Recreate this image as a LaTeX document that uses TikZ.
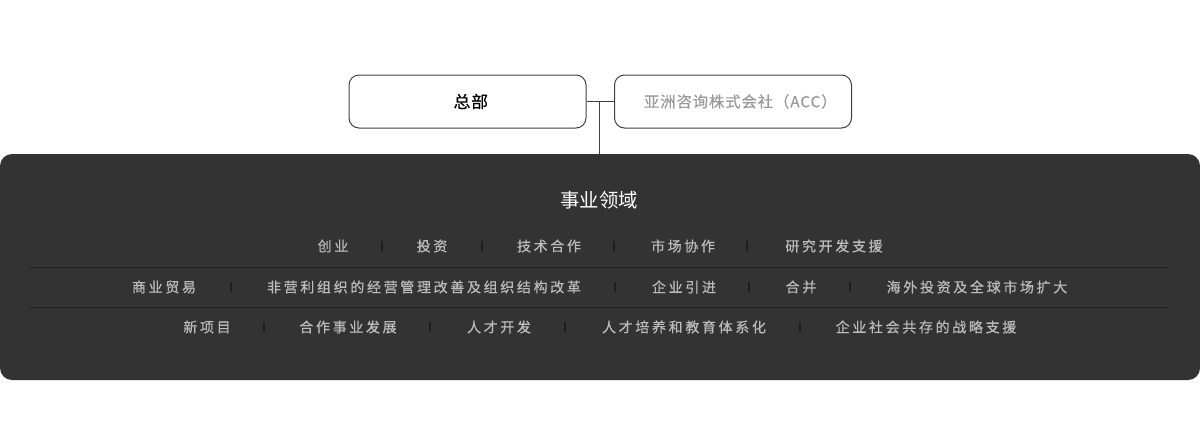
\documentclass[tikz,border=0pt]{standalone}
\usepackage{fontspec}
\setmainfont{Noto Sans CJK SC}
\newfontfamily\cjkwide[LetterSpace=19,FakeBold=0.6]{Noto Sans CJK SC}
\newfontfamily\cjkmid[LetterSpace=6,FakeBold=0.5]{Noto Sans CJK SC}
\usetikzlibrary{positioning}

\definecolor{panelgray}{HTML}{333333}
\definecolor{itemgray}{HTML}{BBBBBB}
\definecolor{rulegray}{HTML}{1E1E1E}
\definecolor{accgray}{HTML}{999999}

\tikzset{
  topbox/.style={draw=black!75,line width=0.75pt,rounded corners=7.5pt,minimum width=177.75pt,minimum height=39.75pt,inner sep=0pt},
  item/.style={text=itemgray,font=\cjkwide\fontsize{10.5}{12}\selectfont,inner sep=0pt},
  sepbar/.style={fill=rulegray,minimum width=1.5pt,minimum height=8pt,inner sep=0pt},
}

\begin{document}
\begin{tikzpicture}[x=0.75pt,y=-0.75pt]
    \useasboundingbox (0,0) rectangle (1200,433);
    % top row
    \node[topbox,font=\cjkmid\fontsize{12.5}{14}\selectfont](hq) at (467.5,101.5){\hspace*{5pt}总部};
    \node[topbox,text=accgray,font=\cjkmid\fontsize{11.5}{14}\selectfont](acc) at (733,101.5){\hspace*{11pt}亚洲咨询株式会社（ACC）};
    % panel
    \node[fill=panelgray,rounded corners=9pt,minimum width=900pt,minimum height=169.5pt,inner sep=0pt](panel) at (600,267){};
    \coordinate(join) at (599,101.5);
    \draw[black!75,line width=0.75pt](hq.east) -- (acc.west);
    \draw[black!75,line width=0.75pt](join) -- (join |- panel.north);
    \node[text=white,font=\fontsize{14.5}{16}\selectfont](title) at (599,200){事业领域};
    % rules
    \coordinate(r1l) at (30,267.5); \coordinate(r1r) at (1168,267.5);
    \coordinate(r2l) at (30,307.5); \coordinate(r2r) at (1168,307.5);
    \draw[rulegray,line width=0.75pt](r1l) -- (r1r);
    \draw[rulegray,line width=0.75pt](r2l) -- (r2r);
    % row 1
    \node[item](a1) at (333,246){创业};
    \node[sepbar](s11) at (382,246){};
    \node[item](a2) at (432,246){投资};
    \node[sepbar](s12) at (482,246){};
    \node[item](a3) at (549,246){技术合作};
    \node[sepbar](s13) at (614,246){};
    \node[item](a4) at (683,246){市场协作};
    \node[sepbar](s14) at (747,246){};
    \node[item](a5) at (834,246){研究开发支援};
    % row 2
    \node[item](b1) at (164,287){商业贸易};
    \node[sepbar](s21) at (231,287){};
    \node[item](b2) at (424,287){非营利组织的经营管理改善及组织结构改革};
    \node[sepbar](s22) at (615,287){};
    \node[item](b3) at (684,287){企业引进};
    \node[sepbar](s23) at (749,287){};
    \node[item](b4) at (801,287){合并};
    \node[sepbar](s24) at (850,287){};
    \node[item](b5) at (977,287){海外投资及全球市场扩大};
    % row 3
    \node[item](c1) at (207,327){新项目};
    \node[sepbar](s31) at (264,327){};
    \node[item](c2) at (348,327){合作事业发展};
    \node[sepbar](s32) at (430,327){};
    \node[item](c3) at (499,327){人才开发};
    \node[sepbar](s33) at (565,327){};
    \node[item](c4) at (684,327){人才培养和教育体系化};
    \node[sepbar](s34) at (800,327){};
    \node[item](c5) at (926,327){企业社会共存的战略支援};
\end{tikzpicture}
\end{document}
